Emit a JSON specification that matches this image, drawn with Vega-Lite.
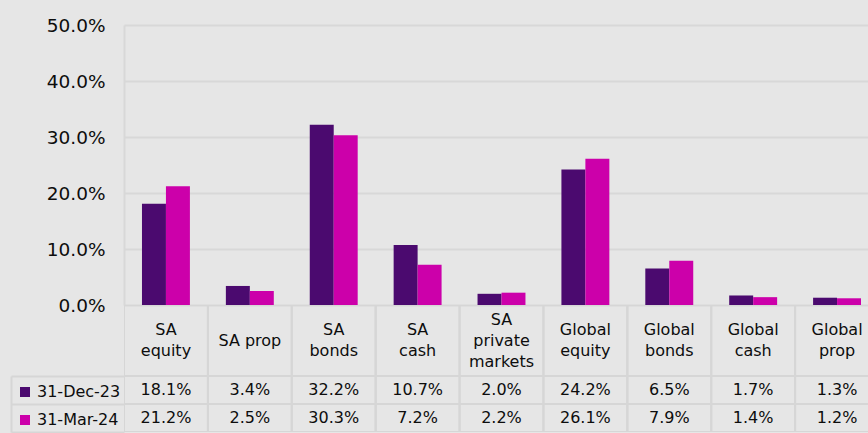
{
  "$schema": "https://vega.github.io/schema/vega-lite/v6.json",
  "background": "#e6e6e6",
  "padding": {"left": 10, "top": 16, "right": 0, "bottom": 0},
  "spacing": 0,
  "bounds": "flush",
  "config": {"view": {"stroke": null}, "font": "DejaVu Sans", "text": {"font": "DejaVu Sans"}},
  "datasets": {
    "alloc": [
      {"category": "SA\nequity", "series": "31-Dec-23", "value": 0.181},
      {"category": "SA\nequity", "series": "31-Mar-24", "value": 0.212},
      {"category": "SA prop", "series": "31-Dec-23", "value": 0.034},
      {"category": "SA prop", "series": "31-Mar-24", "value": 0.025},
      {"category": "SA\nbonds", "series": "31-Dec-23", "value": 0.322},
      {"category": "SA\nbonds", "series": "31-Mar-24", "value": 0.303},
      {"category": "SA\ncash", "series": "31-Dec-23", "value": 0.107},
      {"category": "SA\ncash", "series": "31-Mar-24", "value": 0.072},
      {"category": "SA\nprivate\nmarkets", "series": "31-Dec-23", "value": 0.020},
      {"category": "SA\nprivate\nmarkets", "series": "31-Mar-24", "value": 0.022},
      {"category": "Global\nequity", "series": "31-Dec-23", "value": 0.242},
      {"category": "Global\nequity", "series": "31-Mar-24", "value": 0.261},
      {"category": "Global\nbonds", "series": "31-Dec-23", "value": 0.065},
      {"category": "Global\nbonds", "series": "31-Mar-24", "value": 0.079},
      {"category": "Global\ncash", "series": "31-Dec-23", "value": 0.017},
      {"category": "Global\ncash", "series": "31-Mar-24", "value": 0.014},
      {"category": "Global\nprop", "series": "31-Dec-23", "value": 0.013},
      {"category": "Global\nprop", "series": "31-Mar-24", "value": 0.012}
    ]
  },
  "data": {"name": "alloc"},
  "vconcat": [
    {
      "width": 744,
      "height": 280,
      "mark": {"type": "bar", "clip": true},
      "encoding": {
        "x": {"field": "category", "type": "nominal", "sort": null, "scale": {"range": [0, 755], "paddingInner": 0, "paddingOuter": 0}, "axis": null},
        "xOffset": {"field": "series", "type": "nominal", "sort": null, "scale": {"paddingInner": 0, "paddingOuter": 0.75}},
        "y": {
          "field": "value", "type": "quantitative",
          "scale": {"domain": [0, 0.5], "nice": false},
          "axis": {"format": ".1%", "values": [0, 0.1, 0.2, 0.3, 0.4, 0.5], "grid": true, "gridColor": "#d8d8d8", "gridWidth": 2, "domain": true, "domainColor": "#d8d8d8", "domainWidth": 2, "ticks": false, "labelPadding": 19, "labelFontSize": 18.5, "labelFont": "DejaVu Sans", "labelColor": "#0d0d0d", "title": null}
        },
        "color": {
          "field": "series", "type": "nominal", "sort": null,
          "scale": {"range": ["#4b0a6f", "#cc00aa"]},
          "legend": {"orient": "none", "legendX": -107, "legendY": 359, "title": null, "symbolType": "square", "symbolSize": 100, "symbolStrokeWidth": 0, "labelFontSize": 16, "labelFont": "DejaVu Sans", "rowPadding": 12, "labelOffset": 4, "labelColor": "#0d0d0d", "padding": 0}
        }
      }
    },
    {
      "width": 744,
      "height": 71,
      "transform": [{"filter": "datum.series == '31-Dec-23'"}],
      "encoding": {
        "x": {"field": "category", "type": "nominal", "sort": null, "scale": {"range": [0, 755], "paddingInner": 0, "paddingOuter": 0}, "axis": null}
      },
      "layer": [
        {"mark": {"type": "rect", "fill": "transparent", "stroke": "#d6d6d6", "strokeWidth": 2, "clip": true}},
        {"transform": [{"filter": "length(split(datum.category, '\\n')) == 1"}],
         "mark": {"type": "text", "lineBreak": "\n", "fontSize": 16, "lineHeight": 21, "color": "#0d0d0d", "baseline": "middle"},
         "encoding": {"text": {"field": "category"}}},
        {"transform": [{"filter": "length(split(datum.category, '\\n')) == 2"}],
         "mark": {"type": "text", "lineBreak": "\n", "fontSize": 16, "lineHeight": 21, "color": "#0d0d0d", "baseline": "middle", "dy": -10.5},
         "encoding": {"text": {"field": "category"}}},
        {"transform": [{"filter": "length(split(datum.category, '\\n')) == 3"}],
         "mark": {"type": "text", "lineBreak": "\n", "fontSize": 16, "lineHeight": 21, "color": "#0d0d0d", "baseline": "middle", "dy": -21},
         "encoding": {"text": {"field": "category"}}}
      ]
    },
    {
      "width": 744,
      "height": 56,
      "encoding": {
        "x": {"field": "category", "type": "nominal", "sort": null, "scale": {"range": [0, 755], "paddingInner": 0, "paddingOuter": 0}, "axis": null},
        "y": {
          "field": "series", "type": "nominal", "sort": null,
          "scale": {"paddingInner": 0, "paddingOuter": 0},
          "axis": {"orient": "left", "offset": 113, "title": null, "labels": false, "domain": true, "domainColor": "#d6d6d6", "domainWidth": 2, "ticks": true, "tickBand": "extent", "tickSize": -113, "tickColor": "#d6d6d6", "tickWidth": 2, "grid": false}
        }
      },
      "layer": [
        {"mark": {"type": "rect", "fill": "transparent", "stroke": "#d6d6d6", "strokeWidth": 2, "clip": true}},
        {"mark": {"type": "text", "fontSize": 16, "color": "#0d0d0d", "baseline": "middle"},
         "encoding": {"text": {"field": "value", "type": "quantitative", "format": ".1%"}}}
      ]
    }
  ]
}
